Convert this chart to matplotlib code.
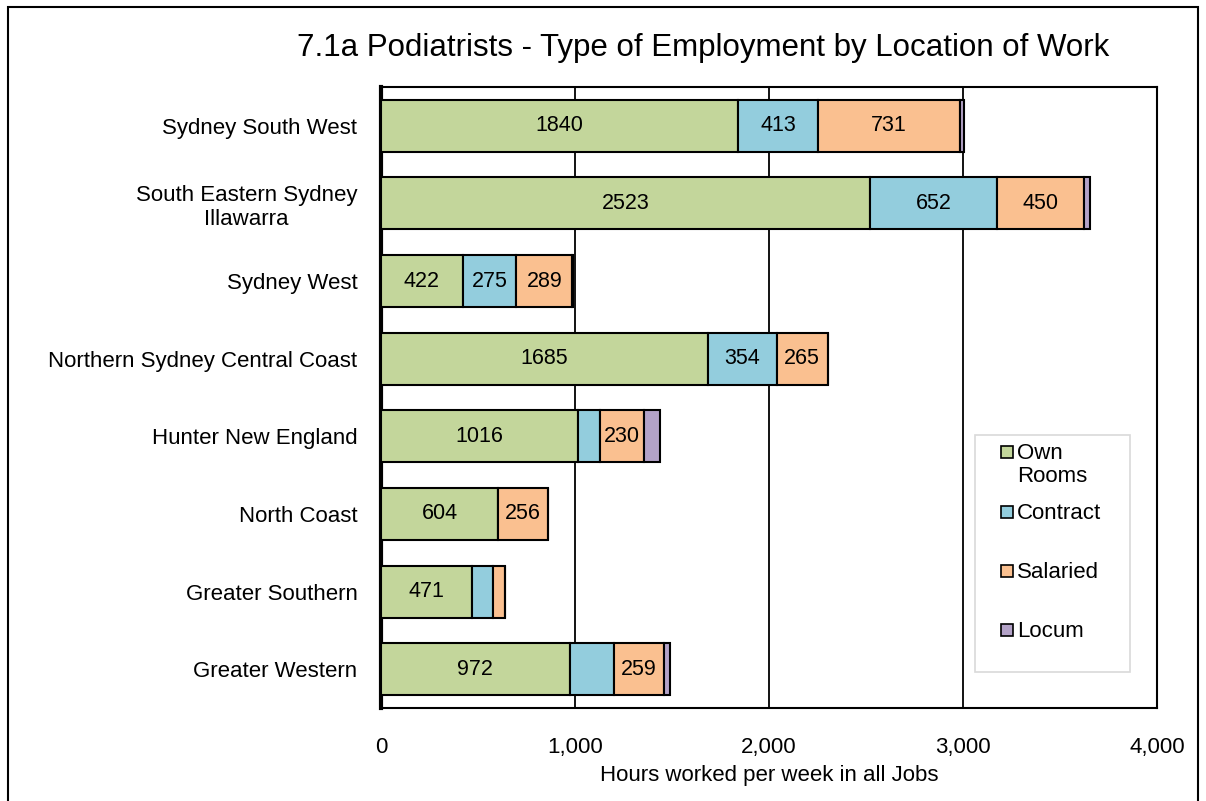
import matplotlib.pyplot as plt
from matplotlib.patches import Rectangle

plt.rcParams['font.family'] = ['Liberation Sans', 'DejaVu Sans']

regions = ["Sydney South West", "South Eastern Sydney\nIllawarra", "Sydney West",
           "Northern Sydney Central Coast", "Hunter New England", "North Coast",
           "Greater Southern", "Greater Western"]
series = ["Own\nRooms", "Contract", "Salaried", "Locum"]
own_rooms = [1840, 2523, 422, 1685, 1016, 604, 471, 972]
contract = [413, 652, 275, 354, 112, 0, 106, 227]
salaried = [731, 450, 289, 265, 230, 256, 62, 259]
locum = [20, 32, 6, 0, 82, 0, 0, 32]
# which segments carry a printed value in the original
show_label = [
    [True, True, True, True, True, True, True, True],
    [True, True, True, True, False, False, False, False],
    [True, True, True, True, True, True, False, True],
    [False] * 8,
]
colors = ["#C3D69B", "#93CDDD", "#FAC090", "#B3A2C7"]

W, H = 1206, 801
fig = plt.figure(figsize=(W / 100, H / 100), dpi=100)
ax = fig.add_axes([381 / W, 1 - 708 / H, 776 / W, 621 / H])

ypos = list(range(len(regions)))
left = [0] * len(regions)
for vals, col, name, shows in zip([own_rooms, contract, salaried, locum], colors, series, show_label):
    bars = ax.barh(ypos, vals, left=left, height=0.67, color=col, edgecolor="black",
                   linewidth=1.5, label=name, zorder=3)
    for b, v, s in zip(bars, vals, shows):
        if s and v > 0:
            ax.text(b.get_x() + b.get_width() / 2, b.get_y() + b.get_height() / 2, str(v),
                    ha="center", va="center", fontsize=15.5, zorder=4)
    left = [l + v for l, v in zip(left, vals)]

ax.set_xlim(0, 4000)
ax.set_ylim(len(regions) - 0.5, -0.5)
ax.set_xticks([0, 1000, 2000, 3000, 4000])
ax.set_xticklabels(["0", "1,000", "2,000", "3,000", "4,000"], fontsize=16)
ax.set_yticks(ypos)
ax.set_yticklabels(regions, fontsize=16)
for t in ax.get_yticklabels():
    t.set_multialignment("center")
ax.tick_params(axis="both", length=0)
ax.tick_params(axis="y", pad=17)
ax.tick_params(axis="x", pad=21)
ax.grid(axis="x", color="black", linewidth=1.3, zorder=0)
for s in ax.spines.values():
    s.set_linewidth(1.5)
ax.spines["left"].set_linewidth(3)
ax.set_xlabel("Hours worked per week in all Jobs", fontsize=16, labelpad=5)

fig.text(0.583, 1 - 48 / H, "7.1a Podiatrists - Type of Employment by Location of Work",
         ha="center", va="center", fontsize=22.5)

# legend drawn by hand to get Excel-like spacing
fig.patches.append(Rectangle((975 / W, 1 - 672 / H), 155 / W, 237 / H,
                             transform=fig.transFigure, facecolor="white",
                             edgecolor="#D9D9D9", linewidth=1.2, zorder=5))
for name, col, yc in zip(series, colors, [452, 512, 571, 630]):
    fig.patches.append(Rectangle((1001 / W, 1 - (yc + 6) / H), 12 / W, 12 / H,
                                 transform=fig.transFigure, facecolor=col,
                                 edgecolor="black", linewidth=1.2, zorder=6))
    fig.text(1017 / W, 1 - (yc - 9) / H, name, ha="left", va="top",
             fontsize=16, linespacing=1.15, zorder=6)

fig.patches.append(Rectangle((8 / W, -0.05), 1190 / W, 1.05 - 7 / H,
                             transform=fig.transFigure, fill=False,
                             edgecolor="black", linewidth=1.5))

fig.savefig("out.png", dpi=100)
